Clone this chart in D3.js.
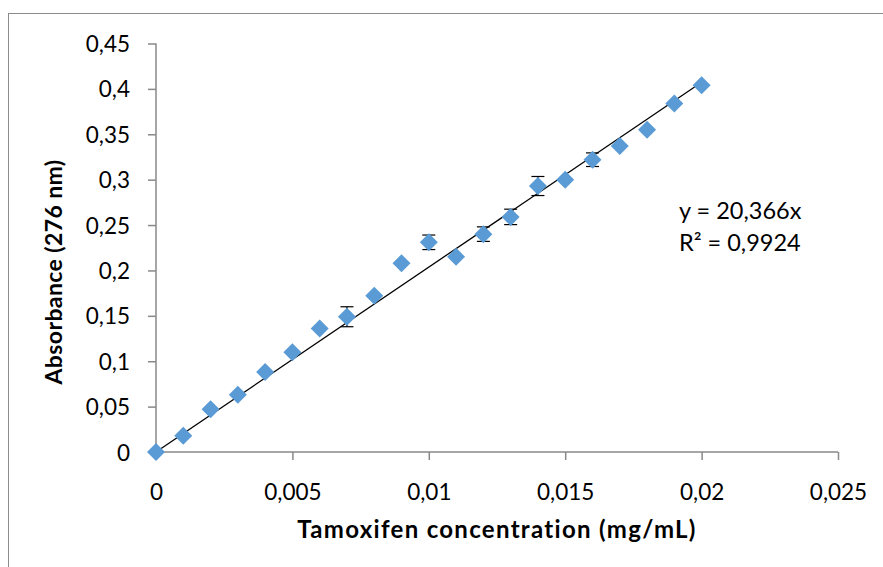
<!DOCTYPE html>
<html><head><meta charset="utf-8">
<script src="https://cdn.jsdelivr.net/npm/d3@7"></script>
<style>
html,body{margin:0;padding:0;background:#fff;}
svg{display:block;}
text{font-family:Lato,"Open Sans",sans-serif;fill:#000;font-variant-ligatures:none;}
</style></head>
<body>
<script>
// Data
const concentrations = [0,0.001,0.002,0.003,0.004,0.005,0.006,0.007,0.008,0.009,0.010,0.011,0.012,0.013,0.014,0.015,0.016,0.017,0.018,0.019,0.020];
const absorbance = [0,0.018,0.047,0.063,0.088,0.110,0.136,0.149,0.172,0.208,0.231,0.215,0.240,0.259,0.293,0.300,0.322,0.337,0.355,0.384,0.404];
const errors = [0,0,0,0,0,0,0,0.011,0,0,0.008,0,0.008,0.0085,0.0105,0,0.0075,0,0,0,0];
const xTicks = [0,0.005,0.01,0.015,0.02,0.025];
const yTicks = [0,0.05,0.1,0.15,0.2,0.25,0.3,0.35,0.4,0.45];
const slope = 20.366;
const trendRange = [0,0.02];
const equationLines = ["y = 20,366x","R\u00B2 = 0,9924"];
const xTitle = "Tamoxifen concentration (mg/mL)";
const yTitle = "Absorbance (276 nm)";

const W = 883, H = 567;
const svg = d3.select("body").append("svg").attr("width",W).attr("height",H);

// outer frame (cropped at right/bottom)
svg.append("rect").attr("x",8.5).attr("y",13.5).attr("width",900).attr("height",600)
  .attr("fill","none").attr("stroke","#8c8c8c").attr("stroke-width",1);

const x = d3.scaleLinear().domain([0,0.025]).range([156,838]);
const y = d3.scaleLinear().domain([0,0.45]).range([452,43.5]);
const fmt = d => String(d).replace(".", ",");
const axisColor = "#898989";

// Y axis
const gy = svg.append("g").attr("transform","translate(156,0)")
  .call(d3.axisLeft(y).tickValues(yTicks).tickSize(8).tickPadding(18).tickFormat(fmt));
gy.selectAll("path,line").attr("stroke",axisColor).attr("stroke-width",1.5);
gy.select("path").attr("d","M0,"+y(0.45)+"V"+y(0));
gy.selectAll("text").attr("font-size",22.5).attr("font-family","Lato").attr("dy","0.36em");

// X axis
const gx = svg.append("g").attr("transform","translate(0,452)")
  .call(d3.axisBottom(x).tickValues(xTicks).tickSize(8).tickPadding(24).tickFormat(fmt));
gx.selectAll("path,line").attr("stroke",axisColor).attr("stroke-width",1.5);
gx.select("path").attr("d","M"+x(0)+",0H"+x(0.025));
gx.selectAll("text").attr("font-size",22.5).attr("font-family","Lato");

// trendline
svg.append("line")
  .attr("x1",x(trendRange[0])).attr("y1",y(slope*trendRange[0]))
  .attr("x2",x(trendRange[1])).attr("y2",y(slope*trendRange[1]))
  .attr("stroke","#000").attr("stroke-width",1.3);

const pts = concentrations.map((c,i)=>({c, a:absorbance[i], e:errors[i]}));

// error bars
const eb = svg.append("g").attr("stroke","#000").attr("stroke-width",1.2);
pts.filter(p=>p.e>0).forEach(p=>{
  const cx = x(p.c), y1 = y(p.a+p.e), y2 = y(p.a-p.e);
  eb.append("line").attr("x1",cx).attr("x2",cx).attr("y1",y1).attr("y2",y2);
  eb.append("line").attr("x1",cx-6.5).attr("x2",cx+6.5).attr("y1",y1).attr("y2",y1);
  eb.append("line").attr("x1",cx-6.5).attr("x2",cx+6.5).attr("y1",y2).attr("y2",y2);
});

// markers (diamonds)
const r = 9;
svg.append("g").selectAll("path").data(pts).join("path")
  .attr("d", p=>{const cx=x(p.c), cy=y(p.a); return `M${cx},${cy-r}L${cx+r},${cy}L${cx},${cy+r}L${cx-r},${cy}Z`;})
  .attr("fill","#5b9bd5");

// equation
svg.append("g").selectAll("text").data(equationLines).join("text")
  .attr("x",679).attr("y",(d,i)=>219+i*31.5)
  .attr("font-size",23.5).text(d=>d);

// axis titles
svg.append("text").attr("x",497).attr("y",537.5).attr("text-anchor","middle")
  .attr("font-size",24).attr("letter-spacing",1.3).attr("font-weight","bold").text(xTitle);
svg.append("text").attr("transform","translate(61.5,272) rotate(-90)").attr("text-anchor","middle")
  .attr("font-size",23).attr("letter-spacing",0.4).attr("font-weight","bold").text(yTitle);
</script>
</body></html>
